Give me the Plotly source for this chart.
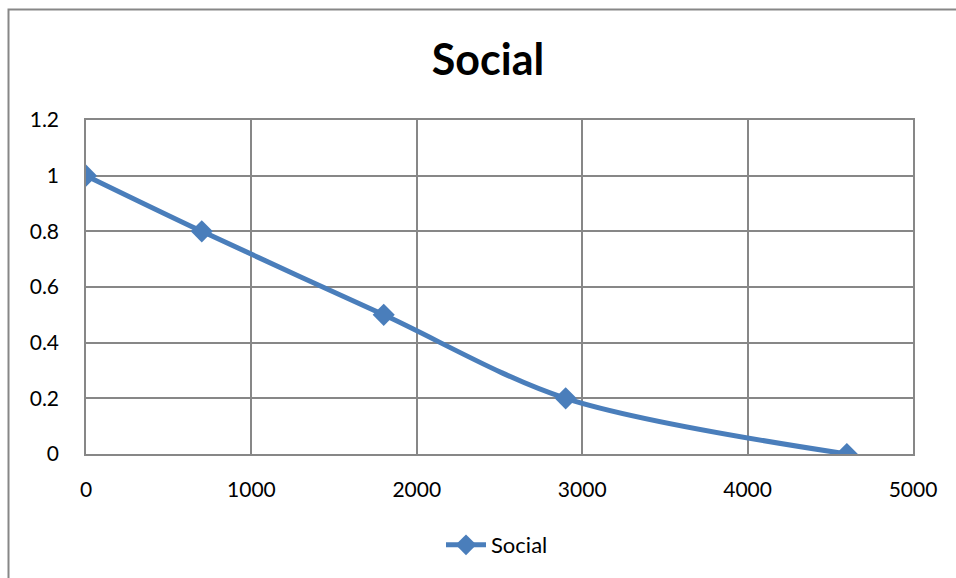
import plotly.graph_objects as go

# Series data
distance = [0, 700, 1800, 2900, 4600]
social = [1.0, 0.8, 0.5, 0.2, 0.0]
series_name = "Social"
chart_title = "Social"

x_ticks = [0, 1000, 2000, 3000, 4000, 5000]
y_ticks = [0, 0.2, 0.4, 0.6, 0.8, 1.0, 1.2]
y_tick_text = ["0", "0.2", "0.4", "0.6", "0.8", "1", "1.2"]

W, H = 956, 578
L, R, T, B = 86, 43, 120, 124
pw, ph = W - L - R, H - T - B

FONT = "Lato, Open Sans, sans-serif"
BLUE = "#4A7EBB"
GRID = "#878787"

fig = go.Figure()
fig.add_trace(go.Scatter(
    x=distance, y=social, name=series_name,
    mode="lines+markers",
    line=dict(color=BLUE, width=5, shape="spline", smoothing=0.9),
    marker=dict(symbol="diamond", size=17, color=BLUE),
))


def px_to_paper_x(px):
    return (px - L) / pw


def px_to_paper_y(py):
    return (H - B - py) / ph


# Outer chart frame (runs off the page on the right and bottom)
fig.add_shape(type="rect", xref="paper", yref="paper",
              x0=px_to_paper_x(8.5), x1=px_to_paper_x(W + 20),
              y0=px_to_paper_y(H + 20), y1=px_to_paper_y(9.5),
              line=dict(color=GRID, width=2), fillcolor="rgba(0,0,0,0)",
              layer="below")

fig.update_layout(
    width=W, height=H,
    margin=dict(l=L, r=R, t=T, b=B),
    paper_bgcolor="white", plot_bgcolor="white",
    title=dict(text="<b>" + chart_title + "</b>", x=px_to_paper_x(488),
               xref="paper", xanchor="center", y=1 - 60 / H,
               yanchor="middle",
               font=dict(family=FONT, size=43, color="black")),
    font=dict(family=FONT, size=21, color="black"),
    showlegend=True,
    legend=dict(orientation="h", x=px_to_paper_x(497), xanchor="center",
                y=px_to_paper_y(545), yanchor="middle",
                font=dict(family=FONT, size=22, color="black"),
                itemwidth=40, bgcolor="rgba(0,0,0,0)"),
    xaxis=dict(range=[0, 5000], tickvals=x_ticks, showgrid=True,
               gridcolor=GRID, gridwidth=1.5, zeroline=False,
               showline=True, linecolor=GRID, linewidth=1.5, mirror=True,
               ticks="", ticklabelstandoff=16, automargin=False),
    yaxis=dict(range=[0, 1.2], tickvals=y_ticks, ticktext=y_tick_text,
               showgrid=True, gridcolor=GRID, gridwidth=1.5, zeroline=False,
               showline=True, linecolor=GRID, linewidth=1.5, mirror=True,
               ticks="", ticklabelstandoff=21, automargin=False),
)

fig.write_html("out.html")
